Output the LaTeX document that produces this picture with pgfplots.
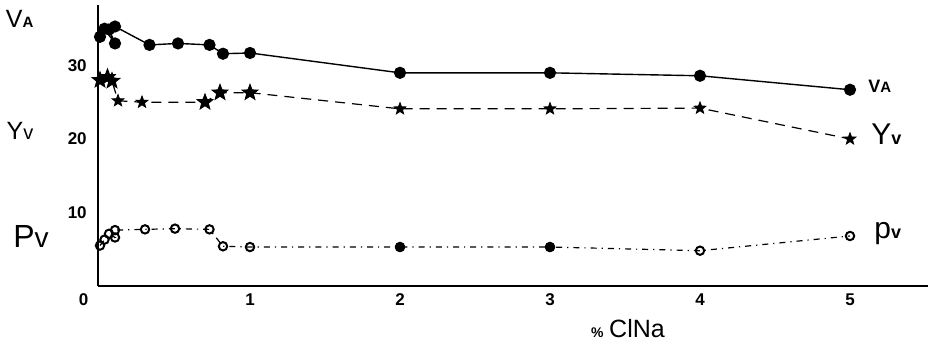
\documentclass[border=0pt]{standalone}
\usepackage{fontspec}
\setmainfont{Liberation Sans}
\usepackage{pgfplots}
\pgfplotsset{compat=1.18}
\pgfdeclareplotmark{fstar}{%
  \pgfpathmoveto{\pgfpointpolar{90}{\pgfplotmarksize}}%
  \pgfpathlineto{\pgfpointpolar{126}{0.42\pgfplotmarksize}}%
  \pgfpathlineto{\pgfpointpolar{162}{\pgfplotmarksize}}%
  \pgfpathlineto{\pgfpointpolar{198}{0.42\pgfplotmarksize}}%
  \pgfpathlineto{\pgfpointpolar{234}{\pgfplotmarksize}}%
  \pgfpathlineto{\pgfpointpolar{270}{0.42\pgfplotmarksize}}%
  \pgfpathlineto{\pgfpointpolar{306}{\pgfplotmarksize}}%
  \pgfpathlineto{\pgfpointpolar{342}{0.42\pgfplotmarksize}}%
  \pgfpathlineto{\pgfpointpolar{18}{\pgfplotmarksize}}%
  \pgfpathlineto{\pgfpointpolar{54}{0.42\pgfplotmarksize}}%
  \pgfpathclose
  \pgfusepathqfillstroke}
\begin{document}
\begin{tikzpicture}
\begin{axis}[
  x=75pt, y=3.675pt,
  xmin=-0.015, xmax=5.52, ymin=0, ymax=38.2,
  axis x line=bottom, axis y line=left,
  axis line style={-, line width=0.9pt},
  xtick={1,2,3,4,5}, ytick={10,20,30},
  major tick length=0pt,
  tick label style={font=\fontsize{8.5}{9}\selectfont\bfseries, /pgf/number format/assume math mode=true},
  xticklabel style={yshift=-0.5pt},
  yticklabel style={xshift=-2pt},
  clip=false,
]
% V_A
\addplot[black, line width=0.7pt, mark=*, mark size=2.7pt, mark options={solid, fill=black}] coordinates {
(0,33.9) (0.03,35.0) (0.1,33.0) (0.06,34.9) (0.1,35.3) (0.33,32.8) (0.52,33.0) (0.73,32.8) (0.82,31.6) (1.0,31.7) (2.0,29.0) (3.0,29.0) (4.0,28.6) (5.0,26.7)};
% Y_v
\addplot[black, line width=0.6pt, dash pattern=on 5pt off 3.5pt, mark=fstar, mark size=3.1pt, mark options={solid, fill=black, line width=0.4pt}] coordinates {
(0,28.0) (0.05,28.4) (0.08,27.9) (0.12,25.2) (0.28,25.0) (0.7,25.0) (0.8,26.3) (1.0,26.3) (2.0,24.1) (3.0,24.1) (4.0,24.2) (5.0,20.0)};
\addplot[only marks, mark=fstar, mark size=4.2pt, mark options={fill=black, line width=0.4pt}] coordinates {(0,28.0) (0.05,28.4) (0.08,27.9) (0.7,25.0) (0.8,26.3) (1.0,26.3)};
% P_v
\addplot[black, line width=0.6pt, dash pattern=on 3pt off 2.5pt on 0.6pt off 2.5pt, mark=o, mark size=2.1pt, mark options={solid, fill=white, line width=1pt}] coordinates {
(0,5.5) (0.03,6.3) (0.1,6.6) (0.06,7.1) (0.1,7.6) (0.3,7.7) (0.5,7.8) (0.73,7.7) (0.82,5.4) (1.0,5.3) (2.0,5.3) (3.0,5.3) (4.0,4.8) (5.0,6.8)};
\addplot[only marks, mark=*, mark size=2.3pt, mark options={fill=black}] coordinates {(2.0,5.3) (3.0,5.3)};
% labels
\node[font=\fontsize{8.5}{9}\selectfont\bfseries] at (axis cs:-0.11,-1.9) {0};
\node[anchor=base west, inner sep=0pt] at (axis cs:-0.63,35.1) {{\fontsize{12.5}{12.5}\selectfont V}{\fontsize{7.5}{7.5}\selectfont\bfseries A}};
\node[anchor=base west, inner sep=0pt] at (axis cs:-0.625,19.9) {{\fontsize{12.5}{12.5}\selectfont Y}{\fontsize{10}{10}\selectfont v}};
\node[anchor=base west, inner sep=0pt] at (axis cs:-0.58,5.2) {{\fontsize{16}{16}\selectfont P}{\fontsize{14}{14}\selectfont v}};
\node[anchor=base west, inner sep=0pt] at (axis cs:5.12,26.3) {{\fontsize{9}{9}\selectfont\bfseries V}{\fontsize{7.5}{7.5}\selectfont\bfseries A}};
\node[anchor=base west, inner sep=0pt] at (axis cs:5.14,19.2) {{\fontsize{15}{15}\selectfont Y}{\fontsize{9}{9}\selectfont\bfseries v}};
\node[anchor=base west, inner sep=0pt] at (axis cs:5.16,6.4) {{\fontsize{15}{15}\selectfont p}{\fontsize{9}{9}\selectfont\bfseries v}};
\node[anchor=base, inner sep=0pt] at (axis cs:3.52,-7.07) {{\fontsize{7}{7}\selectfont\bfseries\%}\ {\fontsize{12.5}{12.5}\selectfont ClNa}};
\coordinate (bl) at (axis cs:-0.6667,-8.163);
\coordinate (tr) at (axis cs:5.52,38.91);
\end{axis}
\pgfresetboundingbox
\path[use as bounding box] (bl) rectangle (tr);
\end{tikzpicture}
\end{document}
